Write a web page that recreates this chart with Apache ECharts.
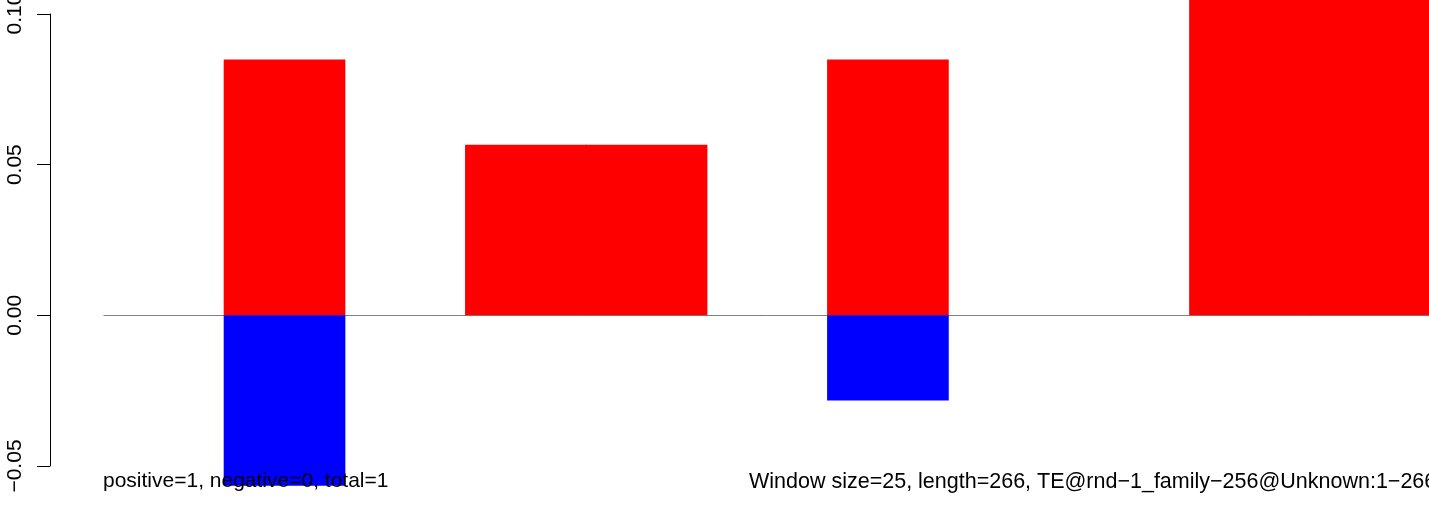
<!DOCTYPE html>
<html>
<head>
<meta charset="utf-8">
<script src="https://cdn.jsdelivr.net/npm/echarts@6/dist/echarts.min.js"></script>
<style>
  html, body { margin: 0; padding: 0; background: #ffffff; }
  #chart { width: 1429px; height: 508px; }
</style>
</head>
<body>
<div id="chart"></div>
<script>
// ---- data ----
var categories = ['1', '2', '3', '4', '5', '6', '7', '8', '9', '10', '11'];
var positiveValues = ['-', 0.0849, '-', 0.0566, 0.0566, '-', 0.0849, '-', '-', 0.1130, 0.1130];
var negativeValues = ['-', -0.0566, '-', '-', '-', '-', -0.0283, '-', '-', '-', '-'];
var yTicks = [-0.05, 0.00, 0.05, 0.10];
var leftNote = 'positive=1, negative=0, total=1';
var rightNote = 'Window size=25, length=266, TE@rnd\u22121_family\u2212256@Unknown:1\u2212266';

var FONT = '"Liberation Sans", Arial, Helvetica, sans-serif';

function fmt(v) {
  return v.toFixed(2).replace('-', '\u2212');
}

var chart = echarts.init(document.getElementById('chart'), null, { renderer: 'canvas' });

var option = {
  backgroundColor: '#ffffff',
  animation: false,
  grid: [
    { left: 50, top: 14, height: 452, width: 10, outerBoundsMode: 'none', containLabel: false },
    { left: 103.5, width: 1327.5, top: 0, bottom: 0, outerBoundsMode: 'none', containLabel: false }
  ],
  xAxis: [
    { gridIndex: 0, type: 'value', show: false },
    { gridIndex: 1, type: 'category', data: categories, show: false, boundaryGap: true }
  ],
  yAxis: [
    {
      gridIndex: 0,
      type: 'value',
      min: yTicks[0],
      max: yTicks[yTicks.length - 1],
      interval: 0.05,
      splitLine: { show: false },
      axisLine: { show: true, lineStyle: { color: '#000000', width: 1 } },
      axisTick: { show: true, length: 13, lineStyle: { color: '#000000', width: 1 } },
      axisLabel: {
        rotate: 90,
        margin: 24,
        color: '#000000',
        fontFamily: FONT,
        fontSize: 21,
        showMinLabel: true,
        showMaxLabel: true,
        hideOverlap: false,
        formatter: function (v) { return fmt(v); }
      }
    },
    {
      gridIndex: 1,
      type: 'value',
      min: -0.06395,
      max: 0.10464,
      show: false,
      splitLine: { show: false }
    }
  ],
  series: [
    {
      name: 'positive',
      type: 'bar',
      xAxisIndex: 1,
      yAxisIndex: 1,
      data: positiveValues,
      barWidth: '100.8%',
      barGap: '-100%',
      itemStyle: { color: '#ff0000' },
      z: 3,
      markLine: {
        z: 1,
        silent: true,
        symbol: 'none',
        label: { show: false },
        lineStyle: { color: '#808080', width: 1, type: 'solid' },
        data: [{ yAxis: 0 }]
      }
    },
    {
      name: 'negative',
      type: 'bar',
      xAxisIndex: 1,
      yAxisIndex: 1,
      data: negativeValues,
      barWidth: '100.8%',
      barGap: '-100%',
      itemStyle: { color: '#0000ff' },
      z: 3
    }
  ],
  graphic: [
    {
      type: 'text',
      left: 103,
      top: 471,
      z: 100,
      style: { text: leftNote, fill: '#000000', font: '21px ' + FONT }
    },
    {
      type: 'text',
      left: 749,
      top: 471,
      z: 100,
      style: { text: rightNote, fill: '#000000', font: '21.5px ' + FONT }
    }
  ]
};

chart.setOption(option);
</script>
</body>
</html>
